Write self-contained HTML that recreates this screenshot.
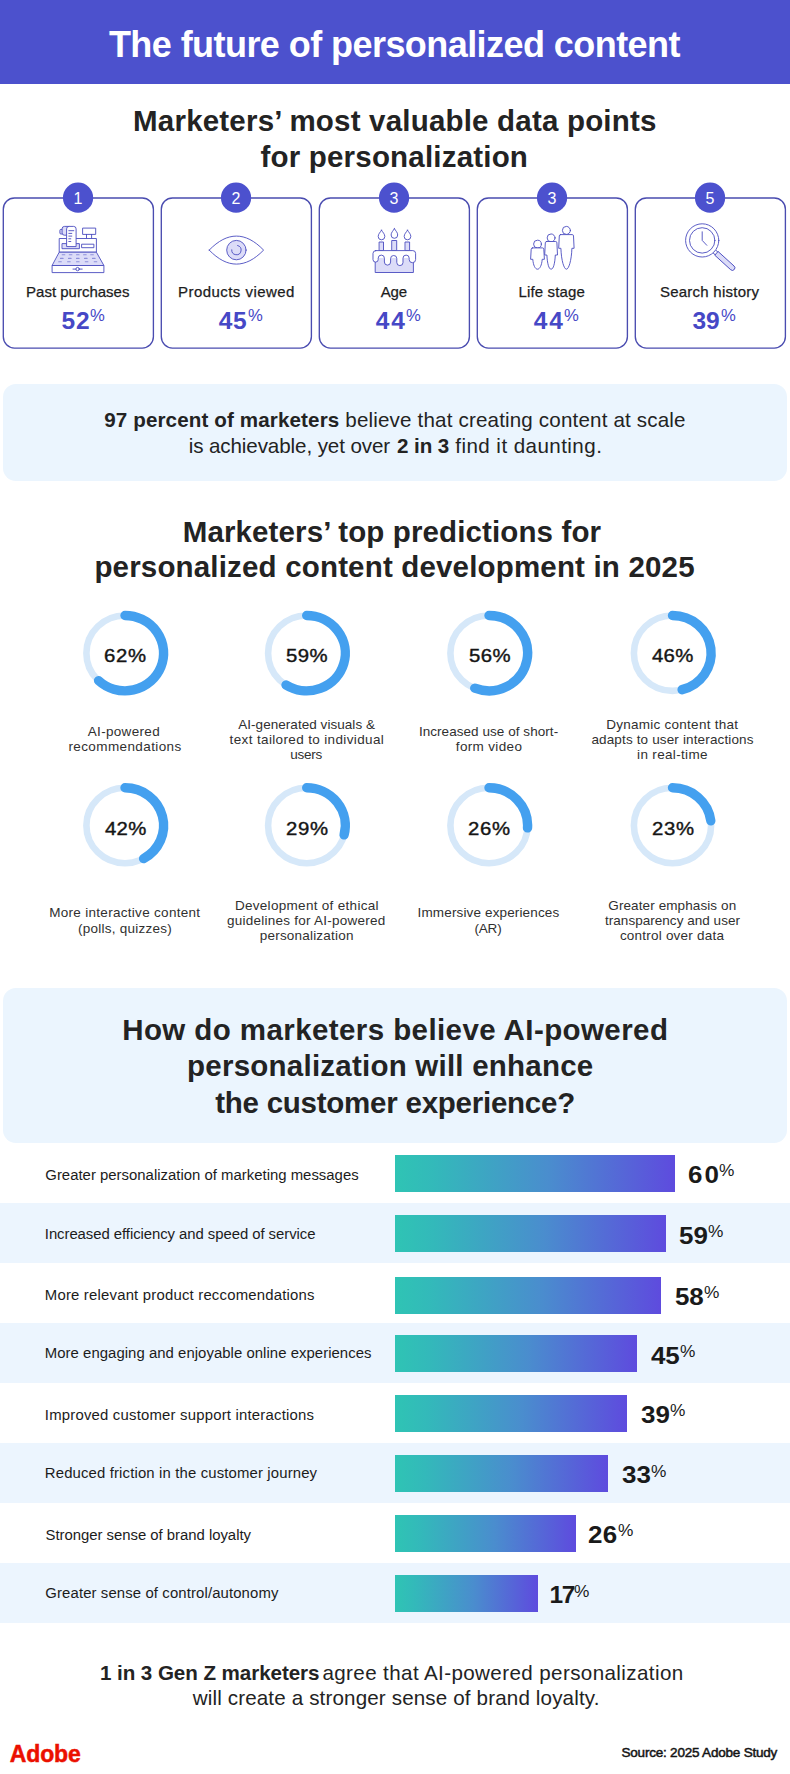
<!DOCTYPE html><html lang="en"><head><meta charset="utf-8"><title>The future of personalized content</title><style>html,body{margin:0;padding:0}
body{width:790px;height:1774px;position:relative;overflow:hidden;background:#fff;font-family:"Liberation Sans",sans-serif}
.t{position:absolute;white-space:nowrap;line-height:1;margin:0}
b{font-weight:700}
</style></head><body><div style="position:absolute;left:0;top:0;width:790px;height:84px;background:#4c51cd"></div>
<svg style="position:absolute;left:0;top:180px" width="790" height="172" viewBox="0 180 790 172"><rect x="3.3" y="197.95" width="150.1" height="150.1" rx="11.2" fill="#fff" stroke="#4a4cb0" stroke-width="1.35"/><circle cx="78.05" cy="197.65" r="15.1" fill="#4c51ce"/><rect x="161.3" y="197.95" width="150.1" height="150.1" rx="11.2" fill="#fff" stroke="#4a4cb0" stroke-width="1.35"/><circle cx="236.05" cy="197.65" r="15.1" fill="#4c51ce"/><rect x="319.3" y="197.95" width="150.1" height="150.1" rx="11.2" fill="#fff" stroke="#4a4cb0" stroke-width="1.35"/><circle cx="394.05" cy="197.65" r="15.1" fill="#4c51ce"/><rect x="477.3" y="197.95" width="150.1" height="150.1" rx="11.2" fill="#fff" stroke="#4a4cb0" stroke-width="1.35"/><circle cx="552.05" cy="197.65" r="15.1" fill="#4c51ce"/><rect x="635.3" y="197.95" width="150.1" height="150.1" rx="11.2" fill="#fff" stroke="#4a4cb0" stroke-width="1.35"/><circle cx="710.05" cy="197.65" r="15.1" fill="#4c51ce"/></svg>
<div style="position:absolute;left:2.5px;top:384.3px;width:784px;height:97px;border-radius:13px;background:#ebf5fe"></div>
<div style="position:absolute;left:2.5px;top:987.7px;width:784px;height:155px;border-radius:13px;background:#ebf5fe"></div>
<div style="position:absolute;left:0;top:1143.0px;width:790px;height:60px;background:#fff"></div>
<div style="position:absolute;left:395px;top:1154.9px;width:279.5px;height:37px;background:linear-gradient(90deg,#2fc4b4 0%,#33b9ba 14%,#4a8dce 55%,#5e4bde 100%)"></div>
<div style="position:absolute;left:0;top:1203.0px;width:790px;height:60px;background:#ecf5fe"></div>
<div style="position:absolute;left:395px;top:1215.3px;width:271.0px;height:37px;background:linear-gradient(90deg,#2fc4b4 0%,#33b9ba 14%,#4a8dce 55%,#5e4bde 100%)"></div>
<div style="position:absolute;left:0;top:1263.0px;width:790px;height:60px;background:#fff"></div>
<div style="position:absolute;left:395px;top:1276.5px;width:266.2px;height:37px;background:linear-gradient(90deg,#2fc4b4 0%,#33b9ba 14%,#4a8dce 55%,#5e4bde 100%)"></div>
<div style="position:absolute;left:0;top:1323.0px;width:790px;height:60px;background:#ecf5fe"></div>
<div style="position:absolute;left:395px;top:1335.3px;width:241.8px;height:37px;background:linear-gradient(90deg,#2fc4b4 0%,#33b9ba 14%,#4a8dce 55%,#5e4bde 100%)"></div>
<div style="position:absolute;left:0;top:1383.0px;width:790px;height:60px;background:#fff"></div>
<div style="position:absolute;left:395px;top:1394.9px;width:232.0px;height:37px;background:linear-gradient(90deg,#2fc4b4 0%,#33b9ba 14%,#4a8dce 55%,#5e4bde 100%)"></div>
<div style="position:absolute;left:0;top:1443.0px;width:790px;height:60px;background:#ecf5fe"></div>
<div style="position:absolute;left:395px;top:1455.1px;width:212.7px;height:37px;background:linear-gradient(90deg,#2fc4b4 0%,#33b9ba 14%,#4a8dce 55%,#5e4bde 100%)"></div>
<div style="position:absolute;left:0;top:1503.0px;width:790px;height:60px;background:#fff"></div>
<div style="position:absolute;left:395px;top:1514.9px;width:180.7px;height:37px;background:linear-gradient(90deg,#2fc4b4 0%,#33b9ba 14%,#4a8dce 55%,#5e4bde 100%)"></div>
<div style="position:absolute;left:0;top:1563.0px;width:790px;height:60px;background:#ecf5fe"></div>
<div style="position:absolute;left:395px;top:1575.1px;width:142.5px;height:37px;background:linear-gradient(90deg,#2fc4b4 0%,#33b9ba 14%,#4a8dce 55%,#5e4bde 100%)"></div>
<svg style="position:absolute;left:0;top:590px" width="790" height="300" viewBox="0 590 790 300"><ellipse cx="125.0" cy="653.15" rx="38.6" ry="37.7" fill="none" stroke="#d6e8f9" stroke-width="6.6"/><path d="M125.0 615.45A38.6 37.7 0 1 1 98.58 680.63" fill="none" stroke="#44a0ef" stroke-width="9.4" stroke-linecap="round"/><ellipse cx="306.7" cy="653.15" rx="38.6" ry="37.7" fill="none" stroke="#d6e8f9" stroke-width="6.6"/><path d="M306.7 615.45A38.6 37.7 0 1 1 286.02 684.98" fill="none" stroke="#44a0ef" stroke-width="9.4" stroke-linecap="round"/><ellipse cx="489.0" cy="653.15" rx="38.6" ry="37.7" fill="none" stroke="#d6e8f9" stroke-width="6.6"/><path d="M489.0 615.45A38.6 37.7 0 1 1 474.79 688.20" fill="none" stroke="#44a0ef" stroke-width="9.4" stroke-linecap="round"/><ellipse cx="672.5" cy="653.15" rx="38.6" ry="37.7" fill="none" stroke="#d6e8f9" stroke-width="6.6"/><path d="M672.5 615.45A38.6 37.7 0 0 1 682.10 689.67" fill="none" stroke="#44a0ef" stroke-width="9.4" stroke-linecap="round"/><ellipse cx="125.0" cy="825.5" rx="38.6" ry="37.7" fill="none" stroke="#d6e8f9" stroke-width="6.6"/><path d="M125.0 787.80A38.6 37.7 0 0 1 143.60 858.54" fill="none" stroke="#44a0ef" stroke-width="9.4" stroke-linecap="round"/><ellipse cx="306.7" cy="825.5" rx="38.6" ry="37.7" fill="none" stroke="#d6e8f9" stroke-width="6.6"/><path d="M306.7 787.80A38.6 37.7 0 0 1 344.09 834.88" fill="none" stroke="#44a0ef" stroke-width="9.4" stroke-linecap="round"/><ellipse cx="489.0" cy="825.5" rx="38.6" ry="37.7" fill="none" stroke="#d6e8f9" stroke-width="6.6"/><path d="M489.0 787.80A38.6 37.7 0 0 1 527.52 827.87" fill="none" stroke="#44a0ef" stroke-width="9.4" stroke-linecap="round"/><ellipse cx="672.5" cy="825.5" rx="38.6" ry="37.7" fill="none" stroke="#d6e8f9" stroke-width="6.6"/><path d="M672.5 787.80A38.6 37.7 0 0 1 710.80 820.77" fill="none" stroke="#44a0ef" stroke-width="9.4" stroke-linecap="round"/></svg>
<svg style="position:absolute;left:0;top:215px" width="790" height="70" viewBox="0 215 790 70" fill="none" stroke="#4a4cc0" stroke-width="0.9" stroke-linejoin="round" stroke-linecap="round"><g><rect x="83" y="228.1" width="12.7" height="6.3" fill="#fff"/><path d="M86.5 234.4V238.5M91.6 234.4V238.5"/><rect x="59.6" y="238.5" width="36.8" height="13.7" fill="#fff"/><rect x="62.4" y="243.6" width="17" height="5.1" fill="#dcdcf8"/><path d="M62.1 229.4H60.9a1 1 0 0 0 -1 1v2.6a1 1 0 0 0 1 1H62.1" fill="#dcdcf8"/><path d="M66.6 235.2H64.4a2.3 2.3 0 0 1 -2.3 -2.3V228.8a2.4 2.4 0 0 1 2.4 -2.4H69" fill="#dcdcf8"/><path d="M66.6 246.2V228.9a2.5 2.5 0 0 1 2.5 -2.5H73.6a2.5 2.5 0 0 1 2.5 2.5V246.2Z" fill="#fff"/><path d="M68.8 230.7h5M68.8 233.4h3M68.8 236.1h3M68.8 238.8h2M68.8 241.5h2" stroke-width="0.9"/><rect x="82" y="244.2" width="11.9" height="3.5" fill="#fff"/><path d="M59.6 252.2H96.4L103.9 265.5H52.5Z" fill="#dcdcf8"/><path d="M62.2 254.7h2.6M69.3 254.7h2.6M76.5 254.7h2.6M83.6 254.7h2.6M90.7 254.7h2.6M60.5 258.4h2.6M68.5 258.4h2.6M76.5 258.4h2.6M84.5 258.4h2.6M92.5 258.4h2.6M58.7 261.8h2.6M67.6 261.8h2.6M76.5 261.8h2.6M85.3 261.8h2.6M94.2 261.8h2.6" stroke-width="1.1" stroke="#8d8fdb"/><rect x="52.5" y="265.5" width="51.4" height="7.1" fill="#fff"/><circle cx="77.6" cy="269.1" r="1.7" fill="#fff"/><path d="M73 269.1h2.9M79.3 269.1h2.9"/></g><path d="M209.20000000000002 250.1C218.4 240.6 227.4 236.1 236.4 236.1S254.4 240.6 263.6 250.1C254.4 259.6 245.4 264.1 236.4 264.1S218.4 259.6 209.20000000000002 250.1Z" fill="#fff"/><circle cx="236.4" cy="250.1" r="9.7" fill="#dcdcf8"/><path d="M237.6 245.5A4.7 4.7 0 1 1 231.7 249.8"/><rect x="379.5" y="242" width="4.0" height="8.6" fill="#dcdcf8"/><path d="M381.5 230.2C382.8 232.39999999999998 384.8 234.0 384.8 236.5A3.3 3.3 0 0 1 378.2 236.5C378.2 234.0 380.2 232.39999999999998 381.5 230.2Z" fill="#fff"/><rect x="392.09999999999997" y="240.5" width="4.6" height="10.1" fill="#dcdcf8"/><path d="M394.4 228.7C395.7 230.89999999999998 397.7 232.5 397.7 235.0A3.3 3.3 0 0 1 391.09999999999997 235.0C391.09999999999997 232.5 393.09999999999997 230.89999999999998 394.4 228.7Z" fill="#fff"/><rect x="405.4" y="242" width="4.2" height="8.6" fill="#dcdcf8"/><path d="M407.5 230.2C408.8 232.39999999999998 410.8 234.0 410.8 236.5A3.3 3.3 0 0 1 404.2 236.5C404.2 234.0 406.2 232.39999999999998 407.5 230.2Z" fill="#fff"/><path d="M375.2 258V272.5H413.4V258" fill="#dcdcf8"/><path d="M375.6 250.6H412.8a2.8 2.8 0 0 1 2.8 2.8V259.5a3.2 3.2 0 0 1 -6.4 0V258.2a3.1 3.1 0 0 0 -6.2 0V262.5a3.1 3.1 0 0 1 -6.2 0V258.6a3.1 3.1 0 0 0 -6.2 0V262a3.1 3.1 0 0 1 -6.2 0V258.2a3.1 3.1 0 0 0 -6.2 0V259.5a2.6 2.6 0 0 1 -5.2 0V253.4a2.8 2.8 0 0 1 2.8 -2.8Z" fill="#fff"/><circle cx="566.4" cy="230.4" r="4.0" fill="#fff"/><path d="M560.5 234.6H572.3Q573.4 234.6 573.5 235.9L574.1 248.3H571.9C571.5 260.8 568.7 269.2 566.4 269.2C564.1 269.2 561.3 260.8 560.9 248.3H558.7L559.3 235.9Q559.4 234.6 560.5 234.6Z" fill="#fff"/><circle cx="551.1" cy="237.9" r="3.95" fill="#fff"/><path d="M546.5 241.5H555.7Q556.8 241.5 556.9 242.8L557.5 255H555.3C554.9 263.5 553.4 269.2 551.1 269.2C548.8 269.2 547.3 263.5 546.9 255H544.7L545.3 242.8Q545.4 241.5 546.5 241.5Z" fill="#fff"/><circle cx="537.5" cy="244.1" r="3.9" fill="#fff"/><path d="M532.4 247.9H542.6Q543.7 247.9 543.8 249.2L544.4 259.3H542.2C541.8 265.2 539.8 269.2 537.5 269.2C535.2 269.2 533.2 265.2 532.8 259.3H530.6L531.2 249.2Q531.3 247.9 532.4 247.9Z" fill="#fff"/><g transform="translate(702.2 240.4) rotate(42.3)"><rect x="16.2" y="-1.9" width="4" height="3.8" fill="#fff"/><path d="M19.6 -2.5H40.8a2.5 2.5 0 0 1 0 5H19.6Z" fill="#dcdcf8"/></g><circle cx="702.2" cy="240.4" r="16.6" fill="#fff"/><circle cx="702.2" cy="240.4" r="12.7"/><path d="M702.2 231.8V240.4L706.8000000000001 245.3"/></svg>
<div class="t" style="left:108.9px;top:27.0px;font-size:36px;font-weight:700;color:#fff;letter-spacing:-0.559px">The future of personalized content</div>
<div class="t" style="left:133.1px;top:106.0px;font-size:29.5px;font-weight:700;color:#232323;letter-spacing:0.197px">Marketers’ most valuable data points</div>
<div class="t" style="left:260.5px;top:142.0px;font-size:29.5px;font-weight:700;color:#232323;letter-spacing:0.194px">for personalization</div>
<div class="t" style="left:73.5px;top:191.0px;font-size:16px;font-weight:400;color:#fff;letter-spacing:0.000px">1</div>
<div class="t" style="left:26.1px;top:284.0px;font-size:15px;font-weight:400;color:#1c1c1c;letter-spacing:-0.004px;-webkit-text-stroke:0.25px #1c1c1c">Past purchases</div>
<div class="t" style="left:61.4px;top:309.0px;font-size:24.5px;font-weight:700;color:#4648c6;letter-spacing:0.927px">52</div>
<div class="t" style="left:89.9px;top:308.0px;font-size:16px;font-weight:400;color:#4648c6;letter-spacing:0.000px;transform:scaleX(1.04);transform-origin:0 0">%</div>
<div class="t" style="left:231.5px;top:191.0px;font-size:16px;font-weight:400;color:#fff;letter-spacing:0.000px">2</div>
<div class="t" style="left:178.0px;top:284.0px;font-size:15px;font-weight:400;color:#1c1c1c;letter-spacing:0.454px;-webkit-text-stroke:0.25px #1c1c1c">Products viewed</div>
<div class="t" style="left:218.7px;top:309.0px;font-size:24.5px;font-weight:700;color:#4648c6;letter-spacing:0.644px">45</div>
<div class="t" style="left:247.7px;top:308.0px;font-size:16px;font-weight:400;color:#4648c6;letter-spacing:0.000px;transform:scaleX(1.04);transform-origin:0 0">%</div>
<div class="t" style="left:389.5px;top:191.0px;font-size:16px;font-weight:400;color:#fff;letter-spacing:0.000px">3</div>
<div class="t" style="left:380.8px;top:284.0px;font-size:15px;font-weight:400;color:#1c1c1c;letter-spacing:-0.198px;-webkit-text-stroke:0.25px #1c1c1c">Age</div>
<div class="t" style="left:375.7px;top:309.0px;font-size:24.5px;font-weight:700;color:#4648c6;letter-spacing:1.879px">44</div>
<div class="t" style="left:406.3px;top:308.0px;font-size:16px;font-weight:400;color:#4648c6;letter-spacing:0.000px;transform:scaleX(1.04);transform-origin:0 0">%</div>
<div class="t" style="left:547.5px;top:191.0px;font-size:16px;font-weight:400;color:#fff;letter-spacing:0.000px">3</div>
<div class="t" style="left:518.4px;top:284.0px;font-size:15px;font-weight:400;color:#1c1c1c;letter-spacing:0.159px;-webkit-text-stroke:0.25px #1c1c1c">Life stage</div>
<div class="t" style="left:533.7px;top:309.0px;font-size:24.5px;font-weight:700;color:#4648c6;letter-spacing:1.879px">44</div>
<div class="t" style="left:564.3px;top:308.0px;font-size:16px;font-weight:400;color:#4648c6;letter-spacing:0.000px;transform:scaleX(1.04);transform-origin:0 0">%</div>
<div class="t" style="left:705.5px;top:191.0px;font-size:16px;font-weight:400;color:#fff;letter-spacing:0.000px">5</div>
<div class="t" style="left:659.9px;top:284.0px;font-size:15px;font-weight:400;color:#1c1c1c;letter-spacing:0.246px;-webkit-text-stroke:0.25px #1c1c1c">Search history</div>
<div class="t" style="left:692.4px;top:309.0px;font-size:24.5px;font-weight:700;color:#4648c6;letter-spacing:-0.073px">39</div>
<div class="t" style="left:720.9px;top:308.0px;font-size:16px;font-weight:400;color:#4648c6;letter-spacing:0.000px;transform:scaleX(1.04);transform-origin:0 0">%</div>
<div class="t" style="left:104.2px;top:410.0px;font-size:20.6px;font-weight:400;color:#232323;letter-spacing:0.123px"><b>97 percent of marketers</b></div>
<div class="t" style="left:345.3px;top:410.0px;font-size:20.6px;font-weight:400;color:#232323;letter-spacing:0.160px">believe that creating content at scale</div>
<div class="t" style="left:188.7px;top:436.0px;font-size:20.6px;font-weight:400;color:#232323;letter-spacing:-0.104px">is achievable, yet over</div>
<div class="t" style="left:397.1px;top:436.0px;font-size:20.6px;font-weight:400;color:#232323;letter-spacing:-0.100px"><b>2 in 3</b></div>
<div class="t" style="left:455.3px;top:436.0px;font-size:20.6px;font-weight:400;color:#232323;letter-spacing:0.430px">find it daunting.</div>
<div class="t" style="left:182.7px;top:517.0px;font-size:29.5px;font-weight:700;color:#232323;letter-spacing:0.125px">Marketers’ top predictions for</div>
<div class="t" style="left:94.4px;top:552.0px;font-size:29.5px;font-weight:700;color:#232323;letter-spacing:0.173px">personalized content development in 2025</div>
<div class="t" style="left:104.1px;top:646.0px;font-size:19px;font-weight:400;color:#151515;letter-spacing:0.591px;transform:scaleX(1.07);transform-origin:0 0;-webkit-text-stroke:0.4px #151515">62%</div>
<div class="t" style="left:286.2px;top:646.0px;font-size:19px;font-weight:400;color:#151515;letter-spacing:0.443px;transform:scaleX(1.07);transform-origin:0 0;-webkit-text-stroke:0.4px #151515">59%</div>
<div class="t" style="left:468.5px;top:646.0px;font-size:19px;font-weight:400;color:#151515;letter-spacing:0.443px;transform:scaleX(1.07);transform-origin:0 0;-webkit-text-stroke:0.4px #151515">56%</div>
<div class="t" style="left:652.3px;top:646.0px;font-size:19px;font-weight:400;color:#151515;letter-spacing:0.294px;transform:scaleX(1.07);transform-origin:0 0;-webkit-text-stroke:0.4px #151515">46%</div>
<div class="t" style="left:104.8px;top:819.0px;font-size:19px;font-weight:400;color:#151515;letter-spacing:0.294px;transform:scaleX(1.07);transform-origin:0 0;-webkit-text-stroke:0.4px #151515">42%</div>
<div class="t" style="left:285.8px;top:819.0px;font-size:19px;font-weight:400;color:#151515;letter-spacing:0.591px;transform:scaleX(1.07);transform-origin:0 0;-webkit-text-stroke:0.4px #151515">29%</div>
<div class="t" style="left:468.1px;top:819.0px;font-size:19px;font-weight:400;color:#151515;letter-spacing:0.591px;transform:scaleX(1.07);transform-origin:0 0;-webkit-text-stroke:0.4px #151515">26%</div>
<div class="t" style="left:651.6px;top:819.0px;font-size:19px;font-weight:400;color:#151515;letter-spacing:0.591px;transform:scaleX(1.07);transform-origin:0 0;-webkit-text-stroke:0.4px #151515">23%</div>
<div class="t" style="left:87.8px;top:725.0px;font-size:13.5px;font-weight:400;color:#303030;letter-spacing:0.312px">AI-powered</div>
<div class="t" style="left:68.4px;top:740.0px;font-size:13.5px;font-weight:400;color:#303030;letter-spacing:0.397px">recommendations</div>
<div class="t" style="left:238.2px;top:718.0px;font-size:13.5px;font-weight:400;color:#303030;letter-spacing:0.048px">AI-generated visuals &amp;</div>
<div class="t" style="left:229.6px;top:733.0px;font-size:13.5px;font-weight:400;color:#303030;letter-spacing:0.359px">text tailored to individual</div>
<div class="t" style="left:290.3px;top:748.0px;font-size:13.5px;font-weight:400;color:#303030;letter-spacing:-0.263px">users</div>
<div class="t" style="left:418.9px;top:725.0px;font-size:13.5px;font-weight:400;color:#303030;letter-spacing:0.053px">Increased use of short-</div>
<div class="t" style="left:455.8px;top:740.0px;font-size:13.5px;font-weight:400;color:#303030;letter-spacing:0.346px">form video</div>
<div class="t" style="left:606.2px;top:718.0px;font-size:13.5px;font-weight:400;color:#303030;letter-spacing:0.262px">Dynamic content that</div>
<div class="t" style="left:591.4px;top:733.0px;font-size:13.5px;font-weight:400;color:#303030;letter-spacing:0.146px">adapts to user interactions</div>
<div class="t" style="left:637.1px;top:748.0px;font-size:13.5px;font-weight:400;color:#303030;letter-spacing:0.328px">in real-time</div>
<div class="t" style="left:49.2px;top:906.0px;font-size:13.5px;font-weight:400;color:#303030;letter-spacing:0.297px">More interactive content</div>
<div class="t" style="left:78.1px;top:922.0px;font-size:13.5px;font-weight:400;color:#303030;letter-spacing:0.240px">(polls, quizzes)</div>
<div class="t" style="left:234.9px;top:899.0px;font-size:13.5px;font-weight:400;color:#303030;letter-spacing:0.301px">Development of ethical</div>
<div class="t" style="left:227.1px;top:914.0px;font-size:13.5px;font-weight:400;color:#303030;letter-spacing:0.243px">guidelines for AI-powered</div>
<div class="t" style="left:259.8px;top:929.0px;font-size:13.5px;font-weight:400;color:#303030;letter-spacing:0.199px">personalization</div>
<div class="t" style="left:417.6px;top:906.0px;font-size:13.5px;font-weight:400;color:#303030;letter-spacing:0.139px">Immersive experiences</div>
<div class="t" style="left:474.6px;top:922.0px;font-size:13.5px;font-weight:400;color:#303030;letter-spacing:-0.239px">(AR)</div>
<div class="t" style="left:608.3px;top:899.0px;font-size:13.5px;font-weight:400;color:#303030;letter-spacing:0.102px">Greater emphasis on</div>
<div class="t" style="left:605.0px;top:914.0px;font-size:13.5px;font-weight:400;color:#303030;letter-spacing:0.032px">transparency and user</div>
<div class="t" style="left:619.9px;top:929.0px;font-size:13.5px;font-weight:400;color:#303030;letter-spacing:0.217px">control over data</div>
<div class="t" style="left:122.2px;top:1015.0px;font-size:29.5px;font-weight:700;color:#232323;letter-spacing:0.412px">How do marketers believe AI-powered</div>
<div class="t" style="left:187.1px;top:1051.0px;font-size:29.5px;font-weight:700;color:#232323;letter-spacing:0.229px">personalization will enhance</div>
<div class="t" style="left:215.2px;top:1088.0px;font-size:29.5px;font-weight:700;color:#232323;letter-spacing:-0.243px">the customer experience?</div>
<div class="t" style="left:45.3px;top:1168.0px;font-size:14.9px;font-weight:400;color:#1c1c1c;letter-spacing:0.011px">Greater personalization of marketing messages</div>
<div class="t" style="left:687.8px;top:1163.0px;font-size:24.5px;font-weight:700;color:#1a1a1a;letter-spacing:2.040px;transform:scaleX(1.06);transform-origin:0 0">60</div>
<div class="t" style="left:719.1px;top:1163.0px;font-size:16px;font-weight:400;color:#1a1a1a;letter-spacing:0.000px;transform:scaleX(1.08);transform-origin:0 0">%</div>
<div class="t" style="left:44.8px;top:1227.0px;font-size:14.9px;font-weight:400;color:#1c1c1c;letter-spacing:-0.056px">Increased efficiency and speed of service</div>
<div class="t" style="left:679.0px;top:1224.0px;font-size:24.5px;font-weight:700;color:#1a1a1a;letter-spacing:0.142px;transform:scaleX(1.06);transform-origin:0 0">59</div>
<div class="t" style="left:708.3px;top:1224.0px;font-size:16px;font-weight:400;color:#1a1a1a;letter-spacing:0.000px;transform:scaleX(1.08);transform-origin:0 0">%</div>
<div class="t" style="left:44.8px;top:1288.0px;font-size:14.9px;font-weight:400;color:#1c1c1c;letter-spacing:0.202px">More relevant product reccomendations</div>
<div class="t" style="left:674.9px;top:1285.0px;font-size:24.5px;font-weight:700;color:#1a1a1a;letter-spacing:-0.235px;transform:scaleX(1.06);transform-origin:0 0">58</div>
<div class="t" style="left:703.8px;top:1285.0px;font-size:16px;font-weight:400;color:#1a1a1a;letter-spacing:0.000px;transform:scaleX(1.08);transform-origin:0 0">%</div>
<div class="t" style="left:44.8px;top:1346.0px;font-size:14.9px;font-weight:400;color:#1c1c1c;letter-spacing:0.047px">More engaging and enjoyable online experiences</div>
<div class="t" style="left:650.5px;top:1344.0px;font-size:24.5px;font-weight:700;color:#1a1a1a;letter-spacing:-0.146px;transform:scaleX(1.06);transform-origin:0 0">45</div>
<div class="t" style="left:679.7px;top:1344.0px;font-size:16px;font-weight:400;color:#1a1a1a;letter-spacing:0.000px;transform:scaleX(1.08);transform-origin:0 0">%</div>
<div class="t" style="left:44.8px;top:1408.0px;font-size:14.9px;font-weight:400;color:#1c1c1c;letter-spacing:0.205px">Improved customer support interactions</div>
<div class="t" style="left:641.2px;top:1403.0px;font-size:24.5px;font-weight:700;color:#1a1a1a;letter-spacing:0.048px;transform:scaleX(1.06);transform-origin:0 0">39</div>
<div class="t" style="left:670.4px;top:1403.0px;font-size:16px;font-weight:400;color:#1a1a1a;letter-spacing:0.000px;transform:scaleX(1.08);transform-origin:0 0">%</div>
<div class="t" style="left:44.8px;top:1466.0px;font-size:14.9px;font-weight:400;color:#1c1c1c;letter-spacing:0.147px">Reduced friction in the customer journey</div>
<div class="t" style="left:621.5px;top:1463.0px;font-size:24.5px;font-weight:700;color:#1a1a1a;letter-spacing:-0.046px;transform:scaleX(1.06);transform-origin:0 0">33</div>
<div class="t" style="left:650.8px;top:1464.0px;font-size:16px;font-weight:400;color:#1a1a1a;letter-spacing:0.000px;transform:scaleX(1.08);transform-origin:0 0">%</div>
<div class="t" style="left:45.5px;top:1528.0px;font-size:14.9px;font-weight:400;color:#1c1c1c;letter-spacing:-0.021px">Stronger sense of brand loyalty</div>
<div class="t" style="left:588.3px;top:1523.0px;font-size:24.5px;font-weight:700;color:#1a1a1a;letter-spacing:0.337px;transform:scaleX(1.06);transform-origin:0 0">26</div>
<div class="t" style="left:618.1px;top:1523.0px;font-size:16px;font-weight:400;color:#1a1a1a;letter-spacing:0.000px;transform:scaleX(1.08);transform-origin:0 0">%</div>
<div class="t" style="left:45.3px;top:1586.0px;font-size:14.9px;font-weight:400;color:#1c1c1c;letter-spacing:0.119px">Greater sense of control/autonomy</div>
<div class="t" style="left:549.6px;top:1583.0px;font-size:24.5px;font-weight:700;color:#1a1a1a;letter-spacing:-1.441px">17</div>
<div class="t" style="left:574.3px;top:1584.0px;font-size:16px;font-weight:400;color:#1a1a1a;letter-spacing:0.000px;transform:scaleX(1.08);transform-origin:0 0">%</div>
<div class="t" style="left:100.0px;top:1663.0px;font-size:20.6px;font-weight:400;color:#232323;letter-spacing:-0.067px"><b>1 in 3 Gen Z marketers</b></div>
<div class="t" style="left:322.4px;top:1663.0px;font-size:20.6px;font-weight:400;color:#232323;letter-spacing:0.386px">agree that AI-powered personalization</div>
<div class="t" style="left:192.7px;top:1688.0px;font-size:20.6px;font-weight:400;color:#232323;letter-spacing:0.144px">will create a stronger sense of brand loyalty.</div>
<div class="t" style="left:9.7px;top:1743.0px;font-size:23px;font-weight:700;color:#eb1000;letter-spacing:-0.108px;-webkit-text-stroke:0.5px #eb1000">Adobe</div>
<div class="t" style="left:621.5px;top:1746.0px;font-size:13.5px;font-weight:400;color:#141414;letter-spacing:-0.209px;-webkit-text-stroke:0.5px #141414">Source: 2025 Adobe Study</div>
</body></html>
